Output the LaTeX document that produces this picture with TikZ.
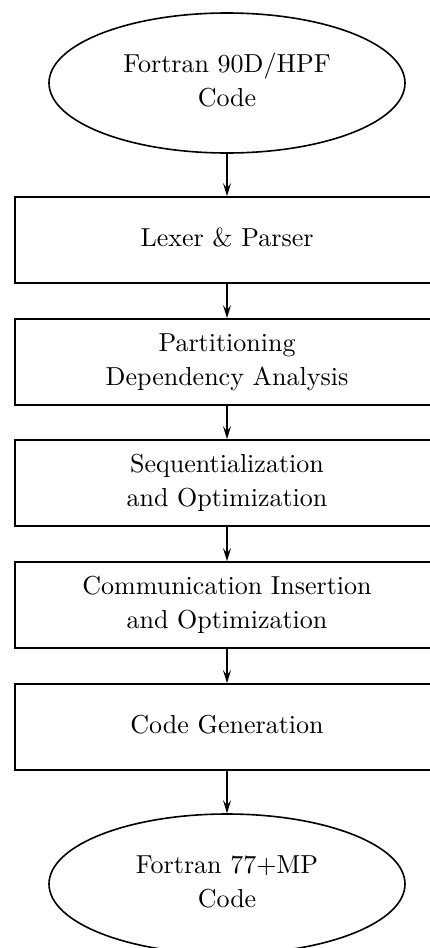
\documentclass[tikz,border=0pt]{standalone}
\usetikzlibrary{shapes.geometric,arrows.meta}
\newcommand\lbl[1]{\scalebox{2.6}{\fontsize{10}{13}\selectfont\begin{tabular}{@{}c@{}}#1\end{tabular}}}
\begin{document}
\begin{tikzpicture}[x=1pt,y=-1pt,
  oval/.style={ellipse, draw, line width=1.6pt, minimum width=356pt, minimum height=140pt, inner sep=0pt},
  stage/.style={rectangle, draw, line width=1.8pt, minimum width=424pt, minimum height=86pt, inner sep=0pt},
  arr/.style={line width=1.2pt, -{Stealth[length=13pt,width=8pt,inset=5pt]}}]
  \path[use as bounding box, clip] (0,0) rectangle (430,948);
  \node[oval]  (src) at (227,83)  {\lbl{Fortran 90D/HPF\\Code}};
  \node[stage] (lex) at (227,240) {\lbl{Lexer \& Parser}};
  \node[stage] (par) at (227,362) {\lbl{Partitioning\\Dependency Analysis}};
  \node[stage] (seq) at (227,483) {\lbl{Sequentialization\\and Optimization}};
  \node[stage] (com) at (227,605) {\lbl{Communication Insertion\\and Optimization}};
  \node[stage] (gen) at (227,727) {\lbl{Code Generation}};
  \node[oval]  (dst) at (227,884) {\lbl{Fortran 77+MP\\Code}};
  \draw[arr] (src.south) -- (lex.north);
  \draw[arr] (lex.south) -- (par.north);
  \draw[arr] (par.south) -- (seq.north);
  \draw[arr] (seq.south) -- (com.north);
  \draw[arr] (com.south) -- (gen.north);
  \draw[arr] (gen.south) -- (dst.north);
\end{tikzpicture}
\end{document}
